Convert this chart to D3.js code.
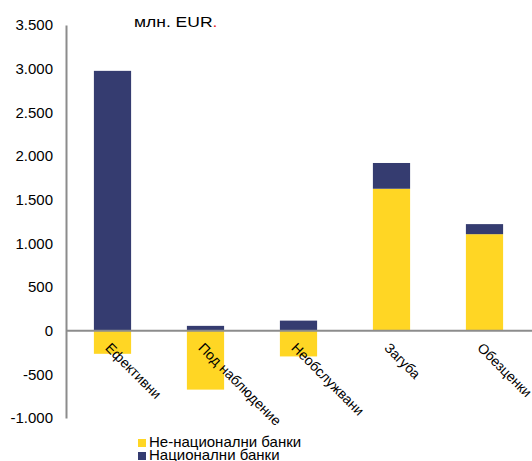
<!DOCTYPE html>
<html><head><meta charset="utf-8">
<script src="https://cdn.jsdelivr.net/npm/d3@7"></script>
<style>body{margin:0;background:#fff;} svg{display:block;font-family:"Liberation Sans",Arial,sans-serif;}</style>
</head><body>
<script>
const categories = ["Ефективни","Под наблюдение","Необслужвани","Загуба","Обезценки"];
const nonNational = [-265, -675, -295, 1625, 1105];
const national = [2975, 55, 115, 295, 115];
const seriesNames = ["Не-национални банки","Национални банки"];
const seriesColors = ["#FFD624","#353C70"];
const yTicks = [-1000,-500,0,500,1000,1500,2000,2500,3000,3500];

const W=532,H=461;
const svg=d3.select("body").append("svg").attr("width",W).attr("height",H);
const x=d3.scaleBand().domain(categories).range([66,531]).paddingInner(0.6).paddingOuter(0.3);
const y=d3.scaleLinear().domain([-1000,3500]).range([418,25]);
const loc=d3.formatLocale({decimal:",",thousands:".",grouping:[3],currency:["",""],minus:"-"});
const fmt=loc.format(",d");

const rows=categories.map((c,i)=>({cat:c,a:nonNational[i],b:national[i]}));
const stack=d3.stack().keys(["a","b"]).offset(d3.stackOffsetDiverging);
const st=stack(rows);

// y axis
const ya=svg.append("g").attr("transform","translate(66,0)")
  .call(d3.axisLeft(y).tickValues(yTicks).tickFormat(fmt).tickSize(0).tickPadding(13));
ya.select(".domain").attr("stroke","#8c8c8c").attr("stroke-width",2);
ya.selectAll("text").attr("font-size",15).attr("fill","#000").attr("font-family","Liberation Sans, Arial, sans-serif");

// bars
st.forEach((s,si)=>{
  svg.append("g").selectAll("rect").data(s).join("rect")
    .attr("x",d=>x(d.data.cat)).attr("width",x.bandwidth())
    .attr("y",d=>y(Math.max(d[0],d[1]))).attr("height",d=>Math.abs(y(d[0])-y(d[1])))
    .attr("fill",seriesColors[si]);
});

// zero line
svg.append("line").attr("x1",66).attr("x2",W).attr("y1",y(0)).attr("y2",y(0))
  .attr("stroke","#8c8c8c").attr("stroke-width",2);

// category labels
svg.append("g").selectAll("text").data(categories).join("text")
  .attr("transform",d=>`translate(${x(d)+x.bandwidth()/2-8},${y(0)+18}) rotate(45)`)
  .attr("font-size",14).attr("fill","#000").text(d=>d);

// unit title
const t=svg.append("text").attr("transform","translate(134,27) scale(1.13,1)")
  .attr("font-size",15.5).attr("fill","#000");
t.append("tspan").text("млн. EUR");
t.append("tspan").attr("fill","#e8241f").text(".");

// legend
const lg=svg.append("g");
seriesNames.forEach((n,i)=>{
  const yy=439+i*13;
  lg.append("rect").attr("x",138).attr("y",yy).attr("width",8).attr("height",8).attr("fill",seriesColors[i]);
  lg.append("text").attr("x",149).attr("y",yy+8).attr("font-size",15).attr("fill","#000").text(n);
});
</script>
</body></html>
